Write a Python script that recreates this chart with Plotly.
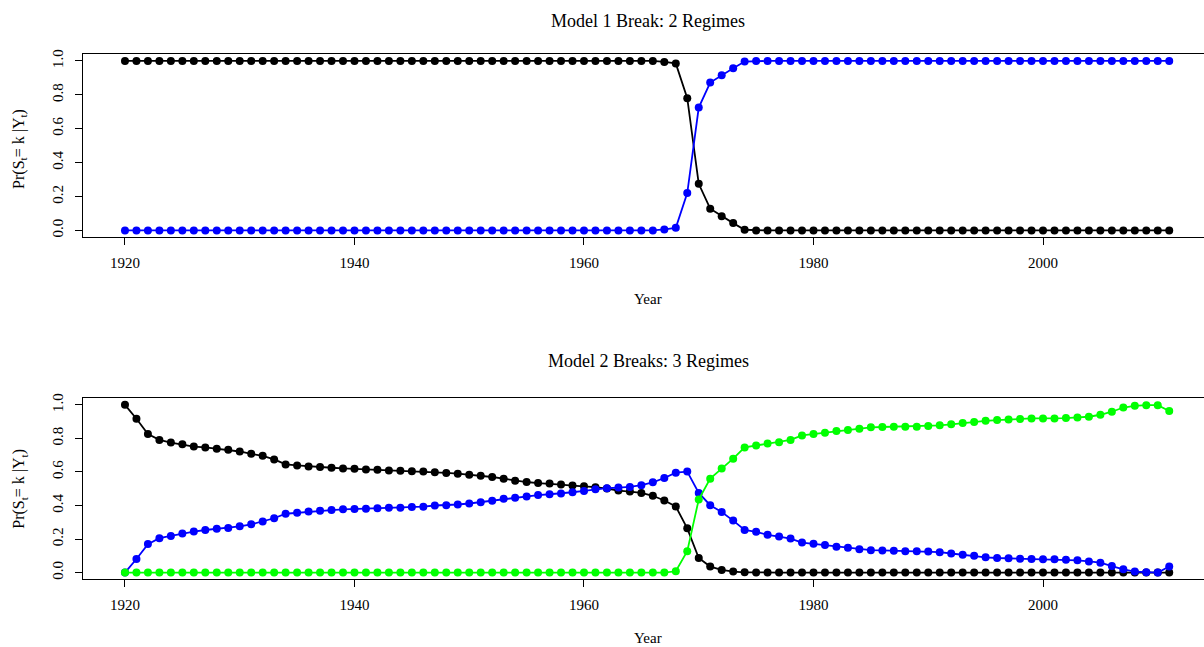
import plotly.graph_objects as go

# Years of the sample
years = list(range(1920, 2012))

# Model with one break: smoothed probabilities of each regime
m1_regime1 = ([1.0] * 47 +
              [0.994, 0.985, 0.78, 0.275, 0.128, 0.084, 0.043, 0.004] +
              [0.0] * 37)
m1_regime2 = ([0.0] * 47 +
              [0.006, 0.015, 0.22, 0.725, 0.872, 0.916, 0.957, 0.996] +
              [1.0] * 37)

# Model with two breaks: smoothed probabilities of each regime
m2_regime1 = [
    1.0, 0.917, 0.826, 0.791, 0.775, 0.765, 0.751, 0.746, 0.738, 0.732,
    0.722, 0.708, 0.696, 0.675, 0.645, 0.639, 0.633, 0.629, 0.625, 0.621,
    0.619, 0.615, 0.613, 0.609, 0.607, 0.604, 0.602, 0.598, 0.594, 0.590,
    0.584, 0.578, 0.570, 0.560, 0.548, 0.540, 0.534, 0.531, 0.525, 0.519,
    0.515, 0.509, 0.501, 0.489, 0.483, 0.475, 0.458, 0.430, 0.394, 0.264,
    0.087, 0.036, 0.016, 0.006, 0.002, 0.0, 0.0, 0.0, 0.0, 0.0,
    0.0, 0.0, 0.0, 0.0, 0.0, 0.0, 0.0, 0.0, 0.0, 0.0,
    0.0, 0.0, 0.0, 0.0, 0.0, 0.0, 0.0, 0.0, 0.0, 0.0,
    0.0, 0.0, 0.0, 0.0, 0.0, 0.0, 0.0, 0.0, 0.0, 0.0,
    0.0, 0.0,
]
m2_regime2 = [
    0.0, 0.081, 0.170, 0.205, 0.219, 0.233, 0.245, 0.254, 0.262, 0.266,
    0.276, 0.288, 0.304, 0.324, 0.351, 0.357, 0.365, 0.369, 0.373, 0.377,
    0.379, 0.381, 0.383, 0.387, 0.387, 0.391, 0.393, 0.400, 0.402, 0.406,
    0.412, 0.420, 0.428, 0.440, 0.446, 0.454, 0.462, 0.467, 0.471, 0.479,
    0.487, 0.497, 0.503, 0.507, 0.511, 0.521, 0.538, 0.564, 0.596, 0.602,
    0.475, 0.402, 0.361, 0.310, 0.254, 0.243, 0.225, 0.215, 0.203, 0.179,
    0.172, 0.164, 0.154, 0.148, 0.140, 0.134, 0.132, 0.130, 0.128, 0.128,
    0.126, 0.122, 0.114, 0.106, 0.100, 0.091, 0.087, 0.085, 0.083, 0.081,
    0.079, 0.079, 0.077, 0.073, 0.067, 0.059, 0.039, 0.020, 0.006, 0.002,
    0.0, 0.036,
]
m2_regime3 = [
    0.0, 0.0, 0.0, 0.0, 0.0, 0.0, 0.0, 0.0, 0.0, 0.0,
    0.0, 0.0, 0.0, 0.0, 0.0, 0.0, 0.0, 0.0, 0.0, 0.0,
    0.0, 0.0, 0.0, 0.0, 0.0, 0.0, 0.0, 0.0, 0.0, 0.0,
    0.0, 0.0, 0.0, 0.0, 0.0, 0.0, 0.0, 0.0, 0.0, 0.0,
    0.0, 0.0, 0.0, 0.0, 0.0, 0.0, 0.0, 0.0, 0.008, 0.128,
    0.436, 0.560, 0.620, 0.679, 0.746, 0.757, 0.769, 0.777, 0.791, 0.818,
    0.826, 0.834, 0.844, 0.850, 0.858, 0.866, 0.868, 0.870, 0.870, 0.870,
    0.874, 0.878, 0.884, 0.892, 0.898, 0.905, 0.909, 0.913, 0.915, 0.919,
    0.919, 0.919, 0.921, 0.925, 0.929, 0.941, 0.959, 0.984, 0.994, 0.998,
    0.998, 0.963,
]

titles = ["Model 1 Break: 2 Regimes", "Model 2 Breaks: 3 Regimes"]
x_ticks = [1920, 1940, 1960, 1980, 2000]
y_ticks = [0.0, 0.2, 0.4, 0.6, 0.8, 1.0]

FONT = "Liberation Serif"
W, H = 1204, 647

fig = go.Figure()

def add_series(y, color, axis):
    fig.add_trace(go.Scatter(
        x=years, y=y, mode="lines+markers",
        line=dict(color=color, width=1.8),
        marker=dict(color=color, size=8, line=dict(width=0)),
        xaxis="x" + axis, yaxis="y" + axis, showlegend=False,
        hoverinfo="skip",
    ))

add_series(m1_regime1, "#000000", "")
add_series(m1_regime2, "#0000FF", "")
add_series(m2_regime1, "#000000", "2")
add_series(m2_regime2, "#0000FF", "2")
add_series(m2_regime3, "#00FF00", "2")

# panel boxes in pixels (top, bottom)
left_px = 83.2
panels = [(49.5, 234.0), (396.2, 578.8)]

def xaxis_cfg(anchor):
    return dict(
        domain=[left_px / W, 1.0], range=[1916.36, 2014.03],
        tickvals=x_ticks, ticks="outside", ticklen=7, tickwidth=1,
        tickcolor="black", showline=True, linecolor="black", linewidth=1,
        mirror=True, showgrid=False, zeroline=False, anchor=anchor,
        tickfont=dict(family=FONT, size=15, color="black"),
        ticklabelstandoff=5,
    )

def yaxis_cfg(top, bottom, anchor):
    return dict(
        domain=[1 - bottom / H, 1 - top / H], range=[-0.04, 1.04],
        tickvals=y_ticks, tickformat=".1f", ticks="outside", ticklen=7,
        tickwidth=1, tickcolor="black", showline=True, linecolor="black",
        linewidth=1, showgrid=False, zeroline=False, anchor=anchor,
        tickangle=-90, tickfont=dict(family=FONT, size=15, color="black"),
        ticklabelstandoff=6,
    )

annotations = []
title_y = [16.5, 358.5]
xlab_y = [296, 637.5]
label_mid = [145, 487.5]
for i in range(2):
    annotations.append(dict(
        text=titles[i], xref="paper", yref="paper",
        x=648 / W, y=1 - title_y[i] / H, xanchor="center", yanchor="middle",
        showarrow=False, font=dict(family=FONT, size=18, color="black"),
    ))
    annotations.append(dict(
        text="Year", xref="paper", yref="paper",
        x=648 / W, y=1 - xlab_y[i] / H, xanchor="center", yanchor="middle",
        showarrow=False, font=dict(family=FONT, size=15, color="black"),
    ))
    annotations.append(dict(
        text="Pr(S<sub>t</sub>= k |Y<sub>t</sub>)", xref="paper", yref="paper",
        x=20 / W, y=1 - label_mid[i] / H, xanchor="center",
        yanchor="middle", textangle=-90, showarrow=False,
        font=dict(family=FONT, size=16, color="black"),
    ))

fig.update_layout(
    width=W, height=H,
    margin=dict(l=0, r=0, t=0, b=0),
    paper_bgcolor="white", plot_bgcolor="white",
    xaxis=xaxis_cfg("y"),
    yaxis=yaxis_cfg(*panels[0], "x"),
    xaxis2=xaxis_cfg("y2"),
    yaxis2=yaxis_cfg(*panels[1], "x2"),
    annotations=annotations,
)

fig.write_html("out.html")
